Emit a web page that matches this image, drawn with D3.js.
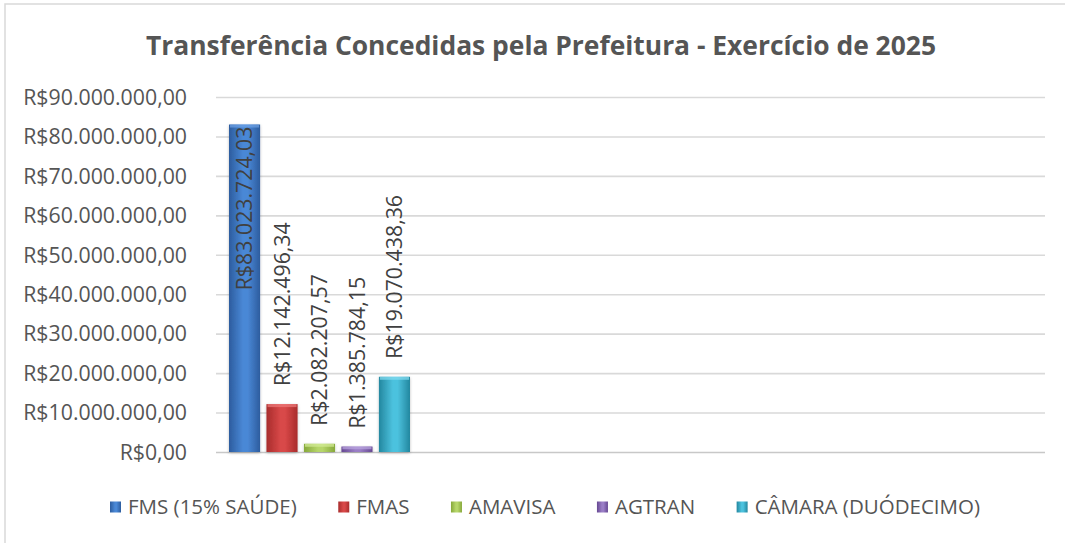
<!DOCTYPE html>
<html>
<head>
<meta charset="utf-8">
<script src="https://cdn.jsdelivr.net/npm/d3@7"></script>
<style>
  html, body { margin: 0; padding: 0; background: #fff; }
  svg { display: block; }
</style>
</head>
<body>
<svg id="chart" width="1065" height="543"></svg>
<script>
// data
const series = ["FMS (15% SAÚDE)", "FMAS", "AMAVISA", "AGTRAN", "CÂMARA (DUÓDECIMO)"];
const values = [83023724.03, 12142496.34, 2082207.57, 1385784.15, 19070438.36];
const yTickValues = [0, 10000000, 20000000, 30000000, 40000000, 50000000, 60000000, 70000000, 80000000, 90000000];
const title = "Transferência Concedidas pela Prefeitura - Exercício de 2025";

// [edge, middle, top highlight] per series
const colors = [
    ["#2c5c9e", "#4a88d6", "#6fa3e6"],
    ["#a82c2c", "#d84848", "#ee7a7a"],
    ["#86a83a", "#b6d66a", "#d4ec98"],
    ["#664892", "#9a7ec6", "#bba6e0"],
    ["#23879f", "#4cc2de", "#86dcef"],
];

const ptBR = d3.formatLocale({
    decimal: ",",
    thousands: ".",
    grouping: [3],
    currency: ["R$", ""],
});
const money = ptBR.format("$,.2f");

const width = 1065, height = 543;
const svg = d3.select("svg#chart");
svg.selectAll("*").remove();

const data = series.map((name, i) => ({ name, value: values[i], color: colors[i] }));

// gradients + shadow
const defs = svg.append("defs");
data.forEach((d, i) => {
    const g = defs.append("linearGradient").attr("id", `grad${i}`)
        .attr("x1", "0%").attr("x2", "100%").attr("y1", "0%").attr("y2", "0%");
    g.append("stop").attr("offset", "0%").attr("stop-color", d.color[0]);
    g.append("stop").attr("offset", "45%").attr("stop-color", d.color[1]);
    g.append("stop").attr("offset", "60%").attr("stop-color", d.color[1]);
    g.append("stop").attr("offset", "100%").attr("stop-color", d.color[0]);
});
const shadow = defs.append("filter").attr("id", "shadow")
    .attr("x", "-30%").attr("y", "-10%").attr("width", "160%").attr("height", "120%");
shadow.append("feDropShadow").attr("dx", 0).attr("dy", 1).attr("stdDeviation", 1.5)
    .attr("flood-color", "#000").attr("flood-opacity", 0.25);

// chart border (runs off the page right & bottom)
svg.append("rect")
    .attr("x", 5).attr("y", 4)
    .attr("width", width + 20).attr("height", height + 20)
    .attr("fill", "none").attr("stroke", "#d9d9d9").attr("stroke-width", 1.5);

// title
svg.append("text")
    .attr("x", 541).attr("y", 55)
    .attr("text-anchor", "middle")
    .attr("font-family", "'Open Sans', sans-serif")
    .attr("font-weight", 700)
    .attr("font-size", 27)
    .attr("fill", "#555555")
    .attr("textLength", 790)
    .attr("lengthAdjust", "spacingAndGlyphs")
    .text(title);

// scales
const yScale = d3.scaleLinear().domain([0, 90000000]).range([452, 97]);
const xScale = d3.scaleBand().domain(series).range([229, 410]).paddingInner(0.17).paddingOuter(0);
const plotLeft = 216, plotRight = 1045;

// y axis with grid lines
svg.append("g")
    .attr("transform", `translate(${plotLeft},0)`)
    .call(d3.axisLeft(yScale).tickValues(yTickValues).tickFormat(money).tickSize(0).tickPadding(29))
    .call(g => g.select(".domain").remove())
    .call(g => g.selectAll(".tick line").clone()
        .attr("x2", plotRight - plotLeft)
        .attr("stroke", d => d === 0 ? "#c8c8c8" : "#d9d9d9")
        .attr("stroke-width", 1.6))
    .call(g => g.selectAll(".tick text")
        .attr("font-family", "'Open Sans', sans-serif")
        .attr("font-size", 21.3)
        .attr("fill", "#555555")
        .attr("dy", "0.34em"));

// bars
const bars = svg.append("g").selectAll("g").data(data).join("g");
bars.append("rect")
    .attr("x", d => xScale(d.name))
    .attr("y", d => yScale(d.value))
    .attr("width", xScale.bandwidth())
    .attr("height", d => yScale(0) - yScale(d.value))
    .attr("fill", (d, i) => `url(#grad${i})`)
    .attr("filter", "url(#shadow)");
// top bevel
bars.append("rect")
    .attr("x", d => xScale(d.name) + 1)
    .attr("y", d => yScale(d.value))
    .attr("width", xScale.bandwidth() - 2)
    .attr("height", d => Math.min(3, (yScale(0) - yScale(d.value)) / 2))
    .attr("fill", d => d.color[2])
    .attr("opacity", 0.7);

// value labels, rotated
const labelFont = 21.3, labelGap = 18;
const labels = svg.append("g").selectAll("text").data(data).join("text")
    .attr("font-family", "'Open Sans', sans-serif")
    .attr("font-size", labelFont)
    .attr("fill", "#404040")
    .attr("dy", "0.36em")
    .text(d => money(d.value));

labels.each(function (d) {
    const len = this.getComputedTextLength();
    const cx = xScale(d.name) + xScale.bandwidth() / 2;
    const top = yScale(d.value);
    let y, anchor;
    if (top - labelGap - len < 90) {
        // no room above: put it inside the end of the bar
        y = top + 2;
        anchor = "end";
    } else {
        y = top - labelGap;
        anchor = "start";
    }
    d3.select(this)
        .attr("text-anchor", anchor)
        .attr("transform", `translate(${cx},${y}) rotate(-90)`);
});

// legend
const legendY = 507, markerSize = 11, markerGap = 7, legendLeft = 110, legendRight = 980;
const legend = svg.append("g");
const items = legend.selectAll("g").data(data).join("g");
items.append("rect")
    .attr("width", markerSize).attr("height", markerSize)
    .attr("y", legendY - markerSize / 2)
    .attr("fill", (d, i) => `url(#grad${i})`);
items.append("text")
    .attr("x", markerSize + markerGap)
    .attr("y", legendY)
    .attr("dy", "0.35em")
    .attr("font-family", "'Open Sans', sans-serif")
    .attr("font-size", 20.5)
    .attr("fill", "#555555")
    .text(d => d.name);

const widths = [];
items.select("text").each(function () { widths.push(this.getComputedTextLength()); });
const itemW = widths.map(w => markerSize + markerGap + w);
const spacing = (legendRight - legendLeft - d3.sum(itemW)) / (data.length - 1);
let cursor = legendLeft;
items.attr("transform", (d, i) => {
    const t = `translate(${cursor},0)`;
    cursor += itemW[i] + spacing;
    return t;
});
</script>
</body>
</html>
